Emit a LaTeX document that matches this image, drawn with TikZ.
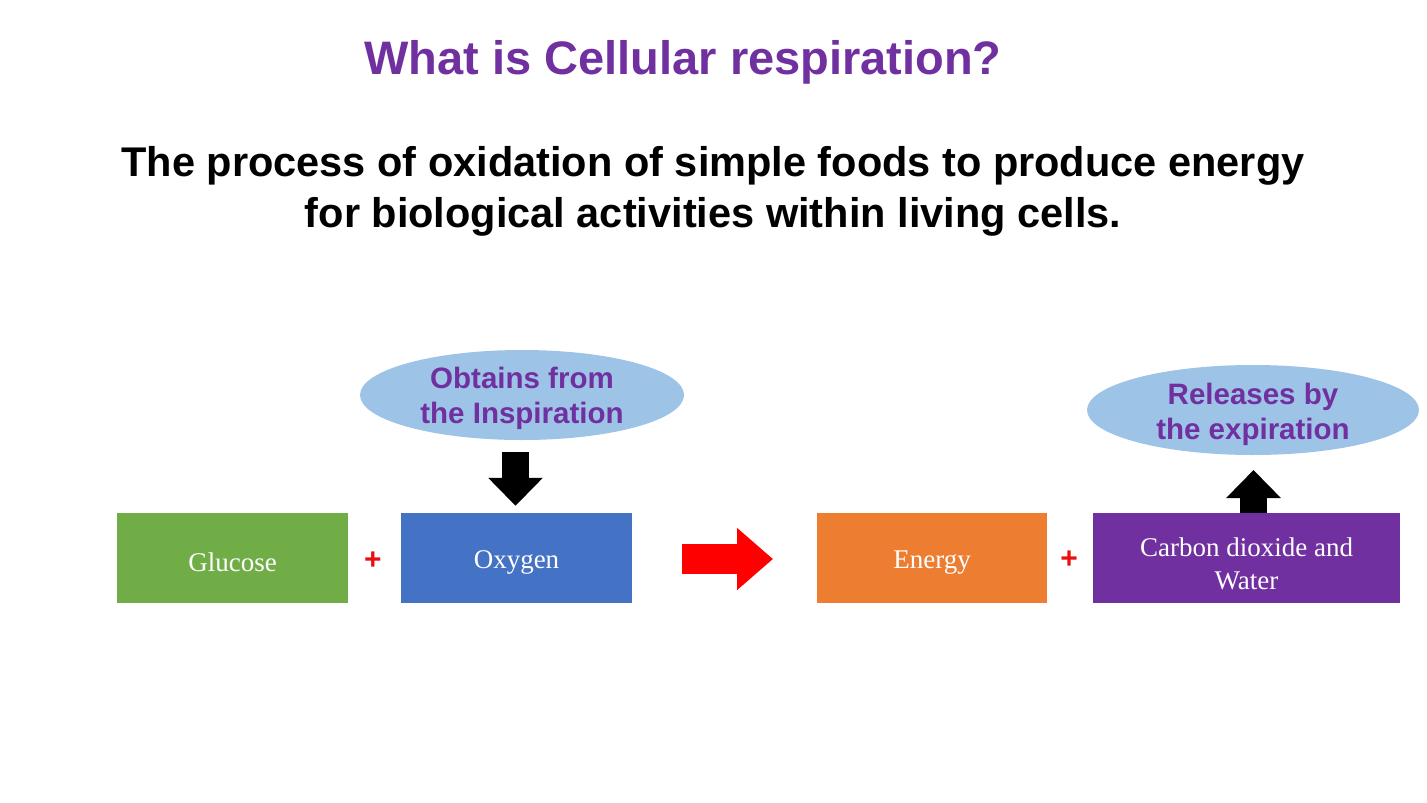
\documentclass[tikz,border=0pt]{standalone}
\usepackage{fontspec}
\setmainfont{Liberation Serif}
\setsansfont{Liberation Sans}
\usetikzlibrary{arrows.meta,shapes.geometric}
\definecolor{ttlpurple}{HTML}{7030A0}
\definecolor{bxgreen}{HTML}{70AD47}
\definecolor{bxblue}{HTML}{4472C4}
\definecolor{bxorange}{HTML}{ED7D31}
\definecolor{bxpurple}{HTML}{7030A0}
\definecolor{ellblue}{HTML}{9DC3E6}
\definecolor{plusred}{HTML}{E81010}
\newcommand{\twolines}[3]{\raisebox{#1}[0pt][0pt]{\begin{tabular}{@{}c@{}}#2\\#3\end{tabular}}}
\newcommand{\oneline}[2]{\raisebox{#1}[0pt][0pt]{#2}}
\tikzset{
  box/.style={draw=none, minimum width=231pt, minimum height=90pt, inner sep=0pt,
    text=white, font=\rmfamily\fontsize{27}{33}\selectfont, align=center},
  cloud/.style={ellipse, fill=ellblue, draw=none, minimum width=324pt, minimum height=90pt,
    inner sep=0pt, text=ttlpurple, font=\sffamily\bfseries\fontsize{29.5}{35}\selectfont, align=center},
  plussign/.style={text=plusred, font=\sffamily\bfseries\fontsize{30}{30}\selectfont, inner sep=0pt},
  blackarrow/.style={line width=27pt, black, -{Triangle[length=28pt,width=53pt]}},
  redarrow/.style={line width=30pt, red, -{Triangle[length=36pt,width=60pt]}},
}
\begin{document}
\begin{tikzpicture}[x=1pt,y=-1pt]
\useasboundingbox (0,0) rectangle (1427,803);
\node[text=ttlpurple, font=\sffamily\bfseries\fontsize{47}{56}\selectfont] (title) at (683,62) {What is Cellular respiration?};
\node[font=\sffamily\bfseries\fontsize{41.5}{51}\selectfont, align=center] (def) at (713,191)
  {The process of oxidation of simple foods to produce energy\\for biological activities within living cells.};
\node[box, fill=bxgreen, minimum width=231pt] (glu) at (232.5,558) {\oneline{-13pt}{Glucose}};
\node[box, fill=bxblue, minimum width=231pt] (oxy) at (516.5,558) {\oneline{-10pt}{Oxygen}};
\node[box, fill=bxorange, minimum width=230pt] (ene) at (932,558) {\oneline{-10pt}{Energy}};
\node[box, fill=bxpurple, minimum width=307pt] (co2) at (1246.5,558) {\twolines{-14.75pt}{Carbon dioxide and}{Water}};
\node[plussign] (p1) at (373,561) {+};
\node[plussign] (p2) at (1069,560) {+};
\node[cloud] (ins) at (522,395) {\twolines{-10.4pt}{Obtains from}{the Inspiration}};
\node[cloud, minimum width=332pt] (exp) at (1253,410) {\twolines{-11.4pt}{Releases by}{the expiration}};
\coordinate (dstart) at (515.5,452);
\coordinate (ustart) at (1253.5,513);
\coordinate (utip) at (1253.5,470);
\coordinate (rstart) at (682,559);
\coordinate (rtip) at (773,559);
\draw[blackarrow, shorten >=7pt] (dstart) -- (dstart |- oxy.north);
\draw[blackarrow] (ustart) -- (utip);
\draw[redarrow] (rstart) -- (rtip);
\end{tikzpicture}
\end{document}
